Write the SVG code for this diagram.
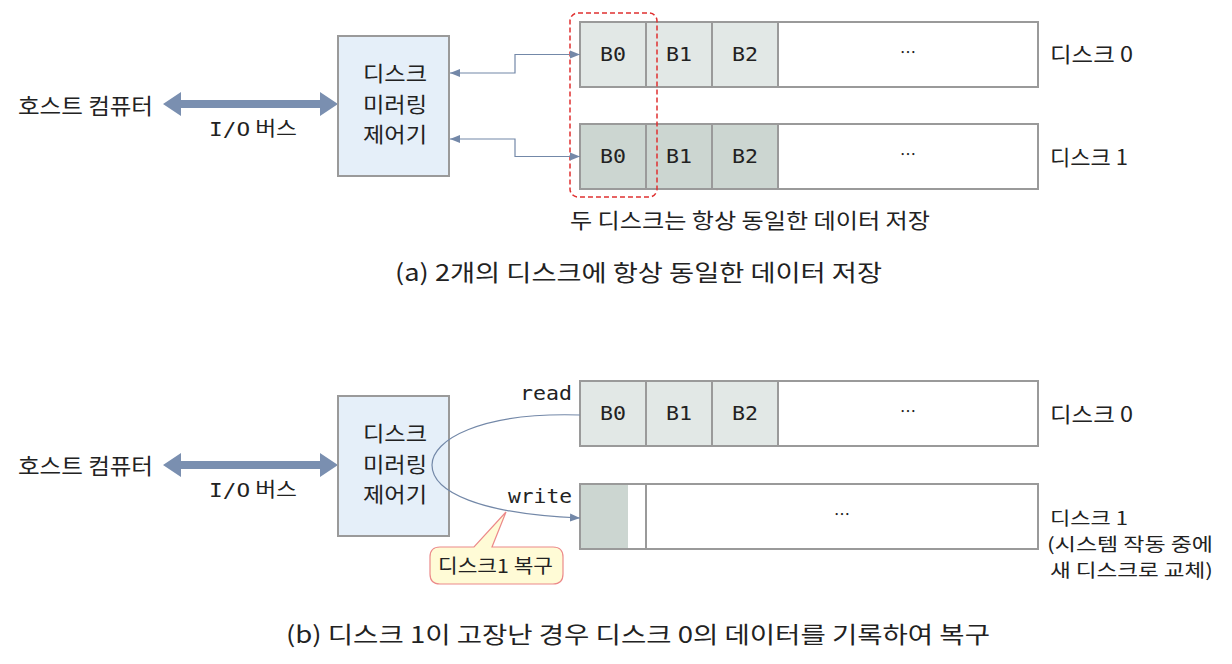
<svg xmlns="http://www.w3.org/2000/svg" width="1232" height="664" viewBox="0 0 1232 664">
<style>
.t{font-family:"Noto Sans CJK KR","Noto Sans",sans-serif;fill:#222;}
.m{font-family:"DejaVu Sans Mono","Liberation Mono",monospace;fill:#222;}
.ctl{fill:#e5eff9;stroke:#9a9a9a;stroke-width:2;}
.c0{fill:#e2e8e6;stroke:#9a9a9a;stroke-width:2;}
.c1{fill:#ccd6d1;stroke:#9a9a9a;stroke-width:2;}
.cw{fill:#ffffff;stroke:#9a9a9a;stroke-width:2;}
.ln{fill:none;stroke:#7388a8;stroke-width:1.2;}
</style>
<defs>
<marker id="ah" viewBox="0 0 10 10" refX="10" refY="5" markerWidth="10" markerHeight="10" markerUnits="userSpaceOnUse" orient="auto-start-reverse">
<path d="M0,1 L10,5 L0,9 z" fill="#7388a8"/>
</marker>
</defs>
<rect width="1232" height="664" fill="#ffffff"/>

<!-- Part (a) -->
<g id="host-a">
<text class="t" x="18" y="114" font-size="22" textLength="135" lengthAdjust="spacingAndGlyphs">호스트 컴퓨터</text>
</g>
<g id="bus-a">
<path d="M163,104 L181,92 L181,100 L320,100 L320,92 L338,104 L320,116 L320,108 L181,108 L181,116 z" fill="#7a8fb0"/>
<text class="t" x="209" y="136" font-size="20" textLength="88" lengthAdjust="spacingAndGlyphs"><tspan class="m">I/O</tspan> 버스</text>
</g>
<g id="ctrl-a">
<rect class="ctl" x="338" y="36" width="111" height="140"/>
<text class="t" x="363" y="81" font-size="21" textLength="64" lengthAdjust="spacingAndGlyphs">디스크</text>
<text class="t" x="363" y="112" font-size="21" textLength="64" lengthAdjust="spacingAndGlyphs">미러링</text>
<text class="t" x="363" y="142" font-size="21" textLength="64" lengthAdjust="spacingAndGlyphs">제어기</text>
</g>
<g id="disk0-a">
<rect class="c0" x="580" y="22" width="66" height="65"/>
<rect class="c0" x="646" y="22" width="66" height="65"/>
<rect class="c0" x="712" y="22" width="66" height="65"/>
<rect class="cw" x="778" y="22" width="260" height="65"/>
<text class="m" x="600" y="61" font-size="19" textLength="26" lengthAdjust="spacingAndGlyphs">B0</text>
<text class="m" x="666" y="61" font-size="19" textLength="26" lengthAdjust="spacingAndGlyphs">B1</text>
<text class="m" x="732" y="61" font-size="19" textLength="26" lengthAdjust="spacingAndGlyphs">B2</text>
<text class="t" x="908" y="58" font-size="16" text-anchor="middle">…</text>
<text class="t" x="1050" y="62" font-size="21" textLength="83" lengthAdjust="spacingAndGlyphs">디스크 0</text>
</g>
<g id="disk1-a">
<rect class="c1" x="580" y="124" width="66" height="65"/>
<rect class="c1" x="646" y="124" width="66" height="65"/>
<rect class="c1" x="712" y="124" width="66" height="65"/>
<rect class="cw" x="778" y="124" width="260" height="65"/>
<text class="m" x="600" y="163" font-size="19" textLength="26" lengthAdjust="spacingAndGlyphs">B0</text>
<text class="m" x="666" y="163" font-size="19" textLength="26" lengthAdjust="spacingAndGlyphs">B1</text>
<text class="m" x="732" y="163" font-size="19" textLength="26" lengthAdjust="spacingAndGlyphs">B2</text>
<text class="t" x="908" y="160" font-size="16" text-anchor="middle">…</text>
<text class="t" x="1050" y="165" font-size="21" textLength="78" lengthAdjust="spacingAndGlyphs">디스크 1</text>
</g>
<g id="mirror-box">
<rect x="570" y="13" width="87" height="184" rx="8" fill="none" stroke="#e03030" stroke-width="1.5" stroke-dasharray="5,3"/>
<text class="t" x="570" y="228" font-size="21" textLength="360" lengthAdjust="spacingAndGlyphs">두 디스크는 항상 동일한 데이터 저장</text>
</g>
<g id="connectors-a">
<path class="ln" d="M450,73 L515,73 L515,54.5 L580,54.5" marker-start="url(#ah)" marker-end="url(#ah)"/>
<path class="ln" d="M450,139 L515,139 L515,156.5 L580,156.5" marker-start="url(#ah)" marker-end="url(#ah)"/>
</g>
<g id="caption-a">
<text class="t" x="395" y="281" font-size="23" textLength="487" lengthAdjust="spacingAndGlyphs">(a) 2개의 디스크에 항상 동일한 데이터 저장</text>
</g>

<!-- Part (b) -->
<g id="host-b">
<text class="t" x="18" y="474" font-size="22" textLength="135" lengthAdjust="spacingAndGlyphs">호스트 컴퓨터</text>
</g>
<g id="bus-b">
<path d="M163,465 L181,453 L181,461 L320,461 L320,453 L338,465 L320,477 L320,469 L181,469 L181,477 z" fill="#7a8fb0"/>
<text class="t" x="209" y="497" font-size="20" textLength="88" lengthAdjust="spacingAndGlyphs"><tspan class="m">I/O</tspan> 버스</text>
</g>
<g id="ctrl-b">
<rect class="ctl" x="338" y="396" width="111" height="140"/>
<text class="t" x="363" y="441" font-size="21" textLength="64" lengthAdjust="spacingAndGlyphs">디스크</text>
<text class="t" x="363" y="472" font-size="21" textLength="64" lengthAdjust="spacingAndGlyphs">미러링</text>
<text class="t" x="363" y="502" font-size="21" textLength="64" lengthAdjust="spacingAndGlyphs">제어기</text>
</g>
<g id="disk0-b">
<rect class="c0" x="580" y="381" width="66" height="65"/>
<rect class="c0" x="646" y="381" width="66" height="65"/>
<rect class="c0" x="712" y="381" width="66" height="65"/>
<rect class="cw" x="778" y="381" width="260" height="65"/>
<text class="m" x="600" y="420" font-size="19" textLength="26" lengthAdjust="spacingAndGlyphs">B0</text>
<text class="m" x="666" y="420" font-size="19" textLength="26" lengthAdjust="spacingAndGlyphs">B1</text>
<text class="m" x="732" y="420" font-size="19" textLength="26" lengthAdjust="spacingAndGlyphs">B2</text>
<text class="t" x="908" y="417" font-size="16" text-anchor="middle">…</text>
<text class="t" x="1050" y="422" font-size="21" textLength="83" lengthAdjust="spacingAndGlyphs">디스크 0</text>
</g>
<g id="disk1-b">
<rect class="cw" x="580" y="484" width="66" height="65"/>
<rect x="581" y="485" width="47" height="63" fill="#ccd6d1"/>
<rect class="cw" x="646" y="484" width="392" height="65"/>
<text class="t" x="842" y="520" font-size="16" text-anchor="middle">…</text>
<text class="t" x="1050" y="525" font-size="18" textLength="78" lengthAdjust="spacingAndGlyphs">디스크 1</text>
<text class="t" x="1047" y="551" font-size="18" textLength="166" lengthAdjust="spacingAndGlyphs">(시스템 작동 중에</text>
<text class="t" x="1050" y="577" font-size="18" textLength="163" lengthAdjust="spacingAndGlyphs">새 디스크로 교체)</text>
</g>
<g id="connectors-b">
<path class="ln" d="M580,415 C480,412 432,440 432,465 C432,492 480,514 580,518" marker-end="url(#ah)"/>
<text class="m" x="520" y="400" font-size="19" textLength="52" lengthAdjust="spacingAndGlyphs">read</text>
<text class="m" x="508" y="503" font-size="19" textLength="64" lengthAdjust="spacingAndGlyphs">write</text>
</g>
<g id="callout">
<path d="M440,547 L474,547 L506,512 L492,547 L553,547 Q563,547 563,557 L563,574 Q563,584 553,584 L440,584 Q430,584 430,574 L430,557 Q430,547 440,547 z" fill="#fffbd6" stroke="#ec8a8a" stroke-width="1.2"/>
<text class="t" x="438" y="573" font-size="19" textLength="115" lengthAdjust="spacingAndGlyphs">디스크1 복구</text>
</g>
<g id="caption-b">
<text class="t" x="286" y="643" font-size="23" textLength="704" lengthAdjust="spacingAndGlyphs">(b) 디스크 1이 고장난 경우 디스크 0의 데이터를 기록하여 복구</text>
</g>
</svg>
